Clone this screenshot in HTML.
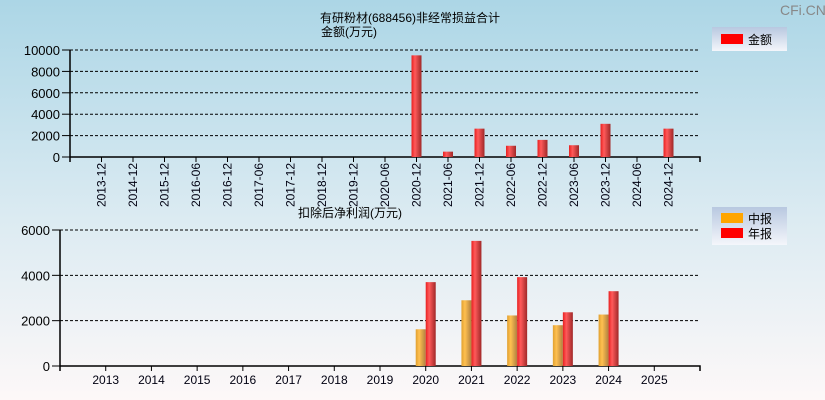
<!DOCTYPE html>
<html><head><meta charset="utf-8"><style>
body{margin:0;width:825px;height:400px;overflow:hidden;}
svg{display:block;font-family:"Liberation Sans","Noto Sans CJK SC",sans-serif;}
</style></head><body>
<svg id="c" width="825" height="400">
<defs>
<linearGradient id="bg" x1="0" y1="0" x2="0" y2="1"><stop offset="0" stop-color="#acd6e6"/><stop offset="0.55" stop-color="#dcebf2"/><stop offset="1" stop-color="#fdf8f8"/></linearGradient>
<linearGradient id="lg" x1="0" y1="0" x2="0" y2="1"><stop offset="0" stop-color="#b8c8e0"/><stop offset="1" stop-color="#f4f6fb"/></linearGradient>
<linearGradient id="red" x1="0" y1="0" x2="1" y2="0"><stop offset="0" stop-color="#e82020"/><stop offset="0.35" stop-color="#ff5a5a"/><stop offset="1" stop-color="#a02828"/></linearGradient>
<linearGradient id="org" x1="0" y1="0" x2="1" y2="0"><stop offset="0" stop-color="#e0a030"/><stop offset="0.35" stop-color="#ffc050"/><stop offset="1" stop-color="#b08040"/></linearGradient>
</defs>
<rect width="825" height="400" fill="url(#bg)"/>
<text x="780" y="15" font-size="14" fill="#888">CFi.CN</text>
<text x="410" y="22" font-size="12" text-anchor="middle">有研粉材(688456)非经常损益合计</text>
<text x="349" y="36" font-size="12" text-anchor="middle">金额(万元)</text>
<g><rect x="712" y="27" width="75" height="24" fill="url(#lg)"/><rect x="721" y="34" width="22" height="10" fill="#f00"/><text x="748" y="44" font-size="12">金额</text></g>
<text x="350" y="217" font-size="12" text-anchor="middle">扣除后净利润(万元)</text>
<g><rect x="712" y="207" width="75" height="38" fill="url(#lg)"/><rect x="721" y="213" width="22" height="10" fill="#ffa500"/><text x="748" y="223" font-size="12">中报</text><rect x="721" y="228" width="22" height="10" fill="#f00"/><text x="748" y="238" font-size="12">年报</text></g>
<g id="top"></g>
<g id="bot"></g>
</svg>
<script>
const topCats=["2013-12","2014-12","2015-12","2016-06","2016-12","2017-06","2017-12","2018-12","2019-12","2020-06","2020-12","2021-06","2021-12","2022-06","2022-12","2023-06","2023-12","2024-06","2024-12"];
const topVals=[0,0,0,0,0,0,0,0,0,0,9500,500,2650,1050,1600,1100,3100,0,2650];
const topTicks=[0,2000,4000,6000,8000,10000];
const botCats=["2013","2014","2015","2016","2017","2018","2019","2020","2021","2022","2023","2024","2025"];
const midVals=[0,0,0,0,0,0,0,1620,2900,2230,1800,2270,0];
const annVals=[0,0,0,0,0,0,0,3700,5520,3920,2370,3300,0];
const botTicks=[0,2000,4000,6000];
const NS="http://www.w3.org/2000/svg";
function mk(p,t,a){const e=document.createElementNS(NS,t);for(const k in a)e.setAttribute(k,a[k]);p.appendChild(e);return e;}
function axes(g,x0,x1,y0,y1,max,ticks,n,cats,rot){
 const sx=i=>x0+(x1-x0)/(n+1)*(i+1);
 const sy=v=>y0-(y0-y1)*v/max;
 ticks.forEach(t=>{
  if(t>0){const l=mk(g,'line',{x1:x0,x2:x1,y1:sy(t),y2:sy(t),stroke:'#000','stroke-dasharray':'3,2'});
  }
  const tk=mk(g,'line',{x1:x0-8,x2:x0,y1:sy(t),y2:sy(t),stroke:'#000'});
  
  const tx=mk(g,'text',{x:x0-10,y:sy(t)+5,'font-size':13,'text-anchor':'end',fill:'#000'});tx.textContent=t;
  
 });
 const ax=mk(g,'path',{d:`M${x0},${y1}V${y0}H${x1}V${y0+5}M${x0},${y0}V${y0+5}`,stroke:'#000',fill:'none','stroke-width':1.5});
 
 cats.forEach((c,i)=>{
  const tk=mk(g,'line',{x1:sx(i),x2:sx(i),y1:y0,y2:y0+5,stroke:'#000'});
  
  let tx;
  if(rot){tx=mk(g,'text',{x:0,y:0,'font-size':12,'text-anchor':'end',transform:`translate(${sx(i)+4},${y0+6}) rotate(-90)`,fill:'#001'});}
  else{tx=mk(g,'text',{x:sx(i),y:y0+18,'font-size':12,'text-anchor':'middle',fill:'#001'});}
  tx.textContent=c;
  
 });
 return {sx,sy};
}
const gt=document.getElementById('top');
const A=axes(gt,70,700,157,50,10000,topTicks,19,topCats,true);
topVals.forEach((v,i)=>{if(v<=0)return;
 const r=mk(gt,'rect',{x:A.sx(i)-5,y:A.sy(v),width:10,height:157-A.sy(v),fill:'url(#red)'});
 });
const gb=document.getElementById('bot');
const B=axes(gb,60,700,366,230,6000,botTicks,13,botCats,false);
botCats.forEach((c,i)=>{
 if(midVals[i]>0){const r=mk(gb,'rect',{x:B.sx(i)-10,y:B.sy(midVals[i]),width:10,height:366-B.sy(midVals[i]),fill:'url(#org)'});
 }
 if(annVals[i]>0){const r=mk(gb,'rect',{x:B.sx(i),y:B.sy(annVals[i]),width:10,height:366-B.sy(annVals[i]),fill:'url(#red)'});
 }
});
</script>
</body></html>
